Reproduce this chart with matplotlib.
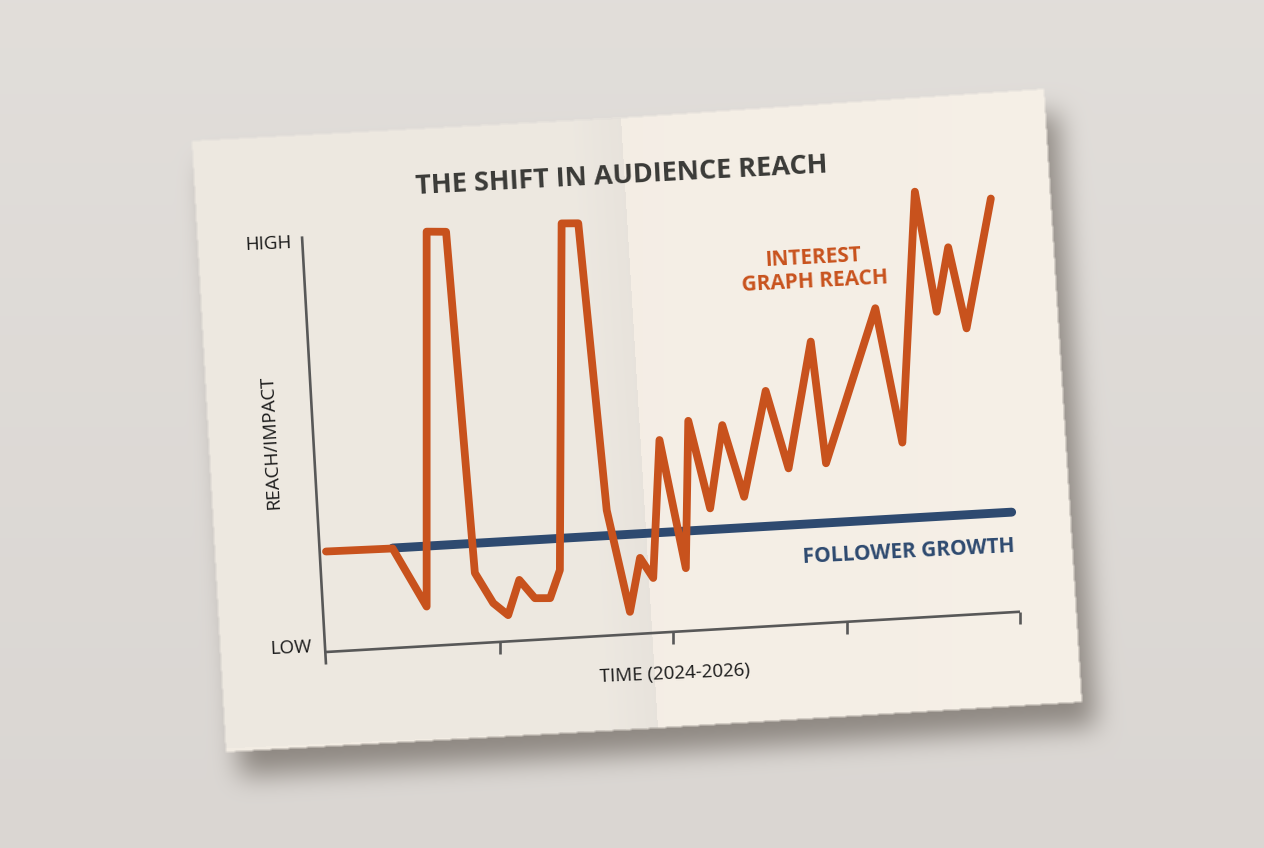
import numpy as np
import matplotlib
matplotlib.use("Agg")
import matplotlib.pyplot as plt
from matplotlib.path import Path
from matplotlib.transforms import Affine2D

# ---------------- data ----------------
years = [2024.000, 2024.192, 2024.290, 2024.290, 2024.346, 2024.429, 2024.482,
         2024.525, 2024.557, 2024.602, 2024.646, 2024.674, 2024.679, 2024.727,
         2024.809, 2024.876, 2024.905, 2024.943, 2024.961, 2025.037, 2025.044,
         2025.107, 2025.142, 2025.205, 2025.267, 2025.333, 2025.397, 2025.441,
         2025.583, 2025.661, 2025.697, 2025.760, 2025.793, 2025.846, 2025.916]
interest_reach = [24.1, 23.9, 9.5, 99.4, 99.1, 16.9, 9.4,
                  6.3, 14.6, 10.0, 9.8, 16.4, 99.5, 99.3,
                  30.1, 5.4, 18.2, 13.2, 46.2, 15.1, 50.4,
                  29.1, 48.9, 31.4, 56.5, 37.6, 67.7, 38.3,
                  74.8, 42.2, 102.2, 73.1, 88.4, 68.7, 99.5]
follower_years = [2024.192, 2025.976]
follower_growth = [24.0, 24.0]
x_ticks = [2024.5, 2025.0, 2025.5, 2026.0]
x_range = [2024.0, 2026.0]

title = "THE SHIFT IN AUDIENCE REACH"
xlabel = "TIME (2024-2026)"
ylabel = "REACH/IMPACT"
y_high, y_low = "HIGH", "LOW"
interest_label = "INTEREST\nGRAPH REACH"
follower_label = "FOLLOWER GROWTH"

# ---------------- styling ----------------
ORANGE = "#c8521d"
NAVY = "#2e4a70"
AXC = "#585858"
TXT = "#1a1a1a"
TITLEC = "#3a3a37"
FONT = ["Open Sans", "DejaVu Sans"]

W, H = 1264, 848
fig = plt.figure(figsize=(W / 100, H / 100), dpi=100)
ax = fig.add_axes([0, 0, 1, 1])
ax.set_xlim(0, W)
ax.set_ylim(H, 0)
ax.axis("off")

# ---------------- paper + shadow backdrop ----------------
yy, xx = np.mgrid[0:H, 0:W].astype(float) + 0.5
pts = np.column_stack([xx.ravel(), yy.ravel()])


def poly_mask(poly):
    return Path(poly).contains_points(pts).reshape(H, W).astype(float)


def blur1d(a, r, axis):
    pw = [(r + 1, r) if i == axis else (0, 0) for i in range(2)]
    p = np.pad(a, pw, mode="edge")
    c = np.cumsum(p, axis=axis)
    if axis == 0:
        return (c[2 * r + 1:] - c[:-2 * r - 1]) / (2 * r + 1)
    return (c[:, 2 * r + 1:] - c[:, :-2 * r - 1]) / (2 * r + 1)


def blur(a, r, n=3):
    for _ in range(n):
        a = blur1d(blur1d(a, r, 0), r, 1)
    return a


paper = [(192, 141), (621, 118), (1044, 89), (1082, 702), (658, 728), (226, 752)]
left_panel = [(150, 141), (621, 118), (658, 728), (150, 752)]

t = (yy / H)[..., None]
bg_top = np.array([0.884, 0.870, 0.855])
bg_bot = np.array([0.855, 0.840, 0.825])
img = bg_top * (1 - t) + bg_bot * t

shadow_poly = [(x + 14, y + 24) for x, y in paper]
sh = blur(poly_mask(shadow_poly), 12, 3)
alpha = (0.6 * sh)[..., None]
img = img * (1 - alpha) + np.array([0.36, 0.33, 0.30]) * alpha

pm = blur(poly_mask(paper), 1, 1)[..., None]
lm = poly_mask(left_panel)[..., None]
xf = 621 + (yy - 118) * (37.0 / 610.0)
d = xf - xx
band = np.clip(1 - d / 50.0, 0, 1)[..., None]
left_col = np.array([0.930, 0.911, 0.881]) - band * np.array([0.022, 0.022, 0.019])
right_col = np.array([0.957, 0.933, 0.898]) + ((xx - 640) / 440.0)[..., None] * 0.006
paper_col = lm * left_col + (1 - lm) * right_col
img = img * (1 - pm) + paper_col * pm
img = np.clip(img, 0, 1)
ax.imshow(img, extent=(0, W, H, 0), interpolation="bilinear", zorder=0)

# ---------------- chart frame (sheared onto the sheet) ----------------
px_per_year = 347.0
slope = 0.058
px_per_unit = 4.17
origin = (326.0, 652.0)
chart = (Affine2D().translate(-x_range[0], 0)
         + Affine2D(np.array([[px_per_year, 0.0, origin[0]],
                              [-px_per_year * slope, -px_per_unit, origin[1]],
                              [0.0, 0.0, 1.0]]))
         + ax.transData)

# axes
ax.plot(x_range, [0, 0], transform=chart, color=AXC, lw=1.9, zorder=2,
        solid_capstyle="butt")
for tk in x_ticks:
    ax.plot([tk, tk], [0, -3.0], transform=chart, color=AXC, lw=1.9, zorder=2,
            solid_capstyle="butt")
ax.plot([x_range[0], x_range[0] - 24 / px_per_year], [-3.0, 100.0],
        transform=chart, color=AXC, lw=1.9, zorder=2, solid_capstyle="butt")

# series
ax.plot(follower_years, follower_growth, transform=chart, color=NAVY, lw=6.4,
        solid_capstyle="round", zorder=3)
ax.plot(years, interest_reach, transform=chart, color=ORANGE, lw=5.6,
        solid_joinstyle="round", solid_capstyle="round", zorder=4)

# ---------------- texts ----------------
ax.text(622, 176, title, fontsize=19.5, fontweight="bold", color=TITLEC,
        family=FONT, ha="center", va="center", rotation=3.0,
        rotation_mode="anchor", zorder=5)
ax.text(675, 674, xlabel, fontsize=13.5, color=TXT, family=FONT,
        ha="center", va="center", rotation=2.5, rotation_mode="anchor", zorder=5)
ax.text(271, 442, ylabel, fontsize=13.5, color=TXT, family=FONT,
        ha="center", va="center", rotation=93.0, rotation_mode="anchor", zorder=5)
ax.text(268, 244, y_high, fontsize=13.5, color=TXT, family=FONT,
        ha="center", va="center", rotation=2.5, rotation_mode="anchor", zorder=5)
ax.text(291, 648, y_low, fontsize=13.5, color=TXT, family=FONT,
        ha="center", va="center", rotation=2.5, rotation_mode="anchor", zorder=5)
ax.text(814, 270, interest_label, fontsize=15, fontweight="bold", color=ORANGE,
        family=FONT, ha="center", va="center", multialignment="center",
        linespacing=1.15, rotation=3.0, rotation_mode="anchor", zorder=5)
ax.text(909, 552, follower_label, fontsize=15, fontweight="bold", color=NAVY,
        family=FONT, ha="center", va="center", rotation=3.0,
        rotation_mode="anchor", zorder=5)

fig.savefig("out.png", dpi=100)
